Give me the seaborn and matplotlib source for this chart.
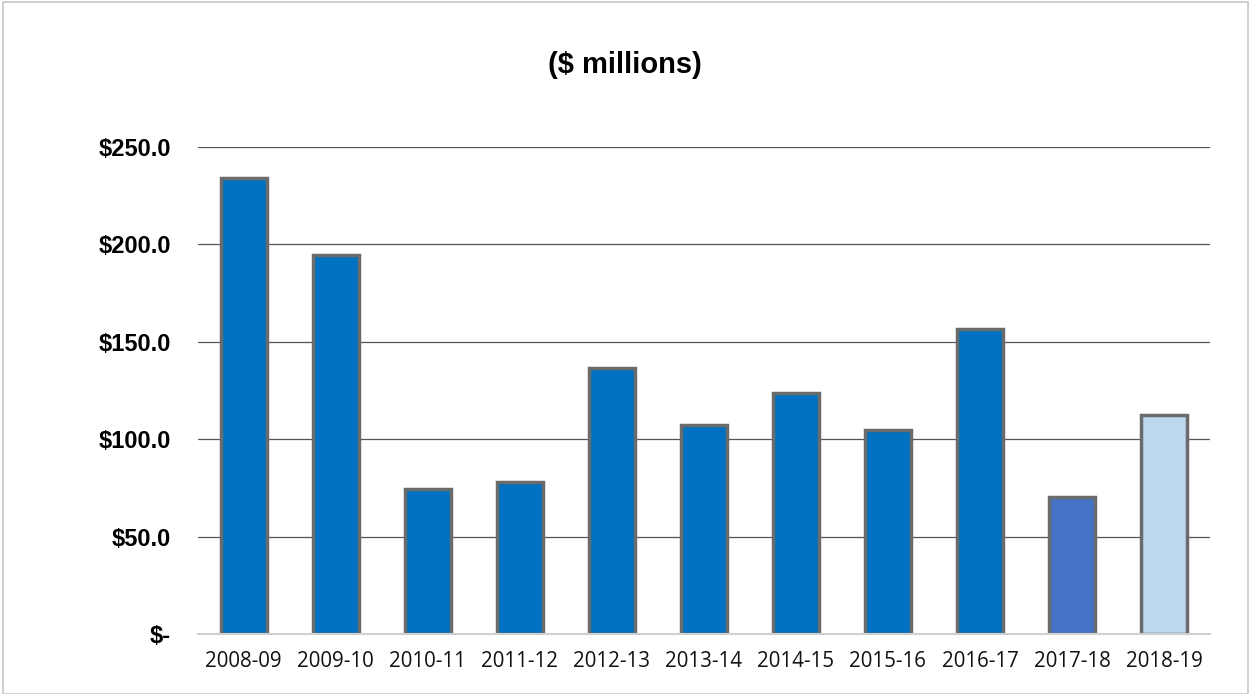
import numpy as np
import matplotlib.pyplot as plt
import pandas as pd
import seaborn as sns

# data
years = ['2008-09', '2009-10', '2010-11', '2011-12', '2012-13', '2013-14',
         '2014-15', '2015-16', '2016-17', '2017-18', '2018-19']
values = [234.0, 194.5, 74.5, 78.0, 136.5, 107.3, 123.7, 104.8, 156.6, 70.5, 112.3]
bar_colors = ['#0070C0'] * 9 + ['#4472C4', '#BDD7EE']
yticks = [0, 50, 100, 150, 200, 250]
ytick_labels = ['$-', '$50.0', '$100.0', '$150.0', '$200.0', '$250.0']

df = pd.DataFrame({'year': years, 'value': values})

sns.set_style('white')
plt.rcParams['font.family'] = ['Liberation Sans', 'DejaVu Sans']

fig = plt.figure(figsize=(12.5, 6.94), dpi=100)
ax = fig.add_axes([0.158, 0.0865, 0.81, 0.702])

sns.barplot(data=df, x='year', y='value', hue='year', palette=bar_colors,
            legend=False, width=0.5, edgecolor='#6b6b6b', linewidth=2.5,
            saturation=1, ax=ax, zorder=3)

ax.set_ylim(0, 250)
ax.set_xlim(-0.5, len(years) - 0.5)
ax.set_yticks(yticks)
ax.set_yticklabels(ytick_labels, fontsize=17, fontweight='bold', color='black')
ax.tick_params(axis='x', length=0, pad=12)
ax.tick_params(axis='y', length=0, pad=19)
for lab in ax.get_xticklabels():
    lab.set_fontfamily(['Open Sans', 'DejaVu Sans'])
    lab.set_fontsize(14.8)
    lab.set_color('#111111')
ax.set_xlabel('')
ax.set_ylabel('')

# gridlines
for y in yticks[1:]:
    ax.axhline(y, color='#555555', linewidth=0.9, zorder=1)
for s in ['top', 'right', 'left']:
    ax.spines[s].set_visible(False)
ax.spines['bottom'].set_color('#d0d0d0')
ax.spines['bottom'].set_linewidth(1.5)
ax.spines['bottom'].set_zorder(4)

fig.text(0.5, 0.907, '($ millions)', ha='center', va='center',
         fontsize=21, fontweight='bold', color='black')

# thin frame round the chart
fig.patches.append(plt.Rectangle((0.002, 0.0), 0.996, 0.997, transform=fig.transFigure,
                                 fill=False, edgecolor='#c8c8c8', linewidth=1.2))

fig.savefig('out.png', dpi=100)
